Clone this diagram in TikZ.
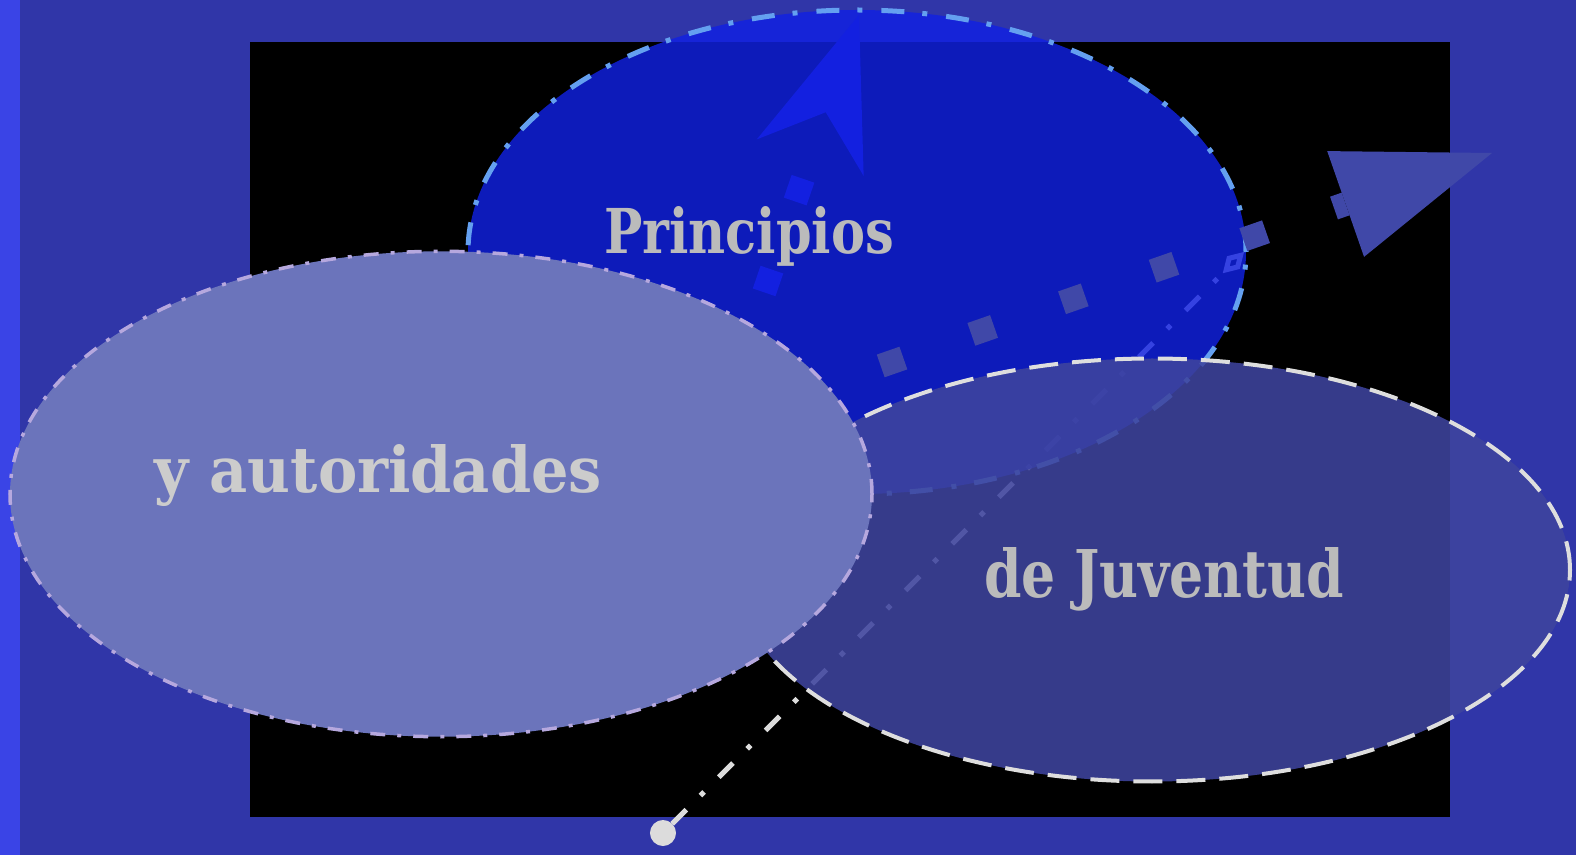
\documentclass[tikz,border=0pt]{standalone}
\usepackage{fontspec}
\usepackage{graphicx}
\setmainfont{DejaVu Serif}
\usetikzlibrary{shapes.geometric,arrows.meta}
\definecolor{bgblue}{RGB}{48,54,168}
\definecolor{stripblue}{RGB}{58,68,230}
\definecolor{topfill}{RGB}{17,33,227}
\definecolor{topborder}{RGB}{100,160,240}
\definecolor{rightfill}{RGB}{62,68,158}
\definecolor{rightborder}{RGB}{222,222,222}
\definecolor{leftfill}{RGB}{107,116,187}
\definecolor{leftborder}{RGB}{182,168,222}
\definecolor{arrowA}{RGB}{64,72,168}
\definecolor{arrowB}{RGB}{19,32,224}
\definecolor{arrowC}{RGB}{220,220,220}
\definecolor{txtA}{RGB}{187,187,187}
\definecolor{txtB}{RGB}{204,204,204}
\tikzset{
  blob/.style={ellipse, inner sep=0pt, outer sep=0pt},
  dotline/.style={line width=12pt, dash pattern=on 12pt off 36pt},
  dashdotline/.style={line width=2.5pt, dash pattern=on 10pt off 10pt on 2.5pt off 10.5pt},
  label/.style={anchor=base west, inner sep=0pt, outer sep=0pt, font=\bfseries}
}
\begin{document}
\begin{tikzpicture}[x=0.5pt,y=-0.5pt]
\useasboundingbox (0,0) rectangle (1576,855);
\fill[bgblue] (0,0) rectangle (1576,855);
\fill[stripblue] (0,0) rectangle (20,855);
\fill[black] (250,42) rectangle (1450,817);

% dash-dot connector under the top ellipse
\coordinate (c3s) at (653.8,842.2);
\coordinate (c3e) at (1244,252);
\draw[arrowC, dashdotline, {Circle[length=13pt, line width=0pt]}-{Diamond[open, length=15pt, width=9pt]}] (c3s) -- (c3e);

% top ellipse
\node[blob, draw=topborder, fill=topfill, fill opacity=0.82, line width=2.5pt,
      dash pattern=on 11.5pt off 9.5pt on 2.5pt off 9pt,
      minimum width=389pt, minimum height=242pt] (top) at (857,252) {};

% dotted arrows
\coordinate (a1s) at (699.4,429.1);
\coordinate (a1e) at (1492,153);
\draw[arrowA, dotline, -{Triangle[length=77.5pt, width=56pt, line width=0pt]}] (a1s) -- (a1e);
\coordinate (a2s) at (702,474);
\coordinate (a2e) at (859,15);
\draw[arrowB, dotline, -{Stealth[length=75.4pt, width=56.5pt, inset=24pt, line width=0pt]}] (a2s) -- (a2e);

% right ellipse
\node[blob, draw=rightborder, fill=rightfill, fill opacity=0.88, line width=2pt,
      dash pattern=on 14.5pt off 7pt,
      minimum width=418pt, minimum height=211.5pt] (right) at (1152,570) {};

% left ellipse
\node[blob, draw=leftborder, fill=leftfill, line width=1.75pt,
      dash pattern=on 7.5pt off 6pt on 2pt off 6pt,
      minimum width=431pt, minimum height=242.7pt] (left) at (441,494) {};

% labels
\node[label, text=txtA] (tP) at (604,254) {\resizebox{145pt}{23.5pt}{Principios}};
\node[label, text=txtB] (tY) at (155,493) {\resizebox{223.5pt}{24pt}{y autoridades}};
\node[label, text=txtA] (tJ) at (984,598) {\resizebox{180pt}{25pt}{de Juventud}};
\end{tikzpicture}
\end{document}
